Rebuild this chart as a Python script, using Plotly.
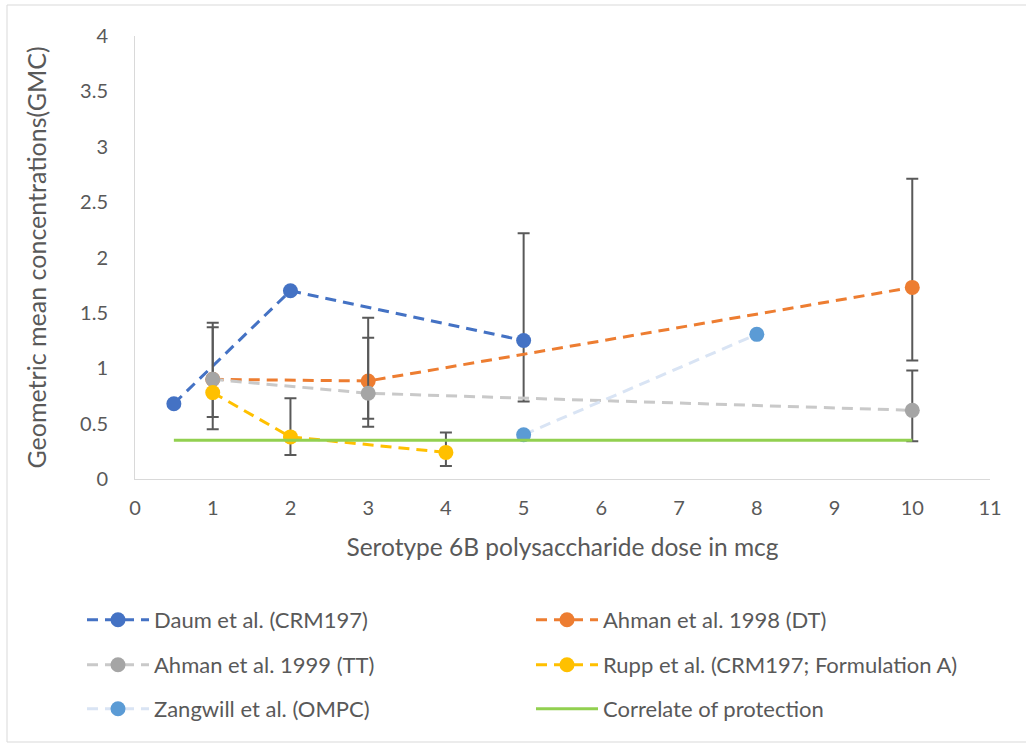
import numpy as np
import plotly.graph_objects as go

# Serotype 6B: GMC by polysaccharide dose (mcg), with CI bounds where reported
daum_dose = [0.5, 2, 5]
daum_gmc = [0.68, 1.70, 1.25]
daum_lo = [None, None, 0.70]
daum_hi = [None, None, 2.22]

ahman98_dose = [1, 3, 10]
ahman98_gmc = [0.90, 0.885, 1.73]
ahman98_lo = [0.56, 0.545, 1.07]
ahman98_hi = [1.41, 1.456, 2.71]

ahman99_dose = [1, 3, 10]
ahman99_gmc = [0.90, 0.774, 0.62]
ahman99_lo = [0.45, 0.472, 0.34]
ahman99_hi = [1.37, 1.276, 0.98]

rupp_dose = [1, 2, 4]
rupp_gmc = [0.78, 0.38, 0.24]
rupp_lo = [None, 0.217, 0.117]
rupp_hi = [None, 0.73, 0.42]

zangwill_dose = [5, 8]
zangwill_gmc = [0.40, 1.306]

protection_dose = [0.5, 10]
protection_gmc = [0.35, 0.35]

FONT = "Lato"
TXT = "#595959"
ERR = "#595959"
DASH = "11px,7px"


def err_arrays(y, lo, hi):
    plus = [np.nan if h is None else h - v for v, h in zip(y, hi)]
    minus = [np.nan if l is None else v - l for v, l in zip(y, lo)]
    return plus, minus


def series(name, x, y, line_color, marker_color, legend, lo=None, hi=None):
    kw = {}
    if lo is not None:
        plus, minus = err_arrays(y, lo, hi)
        kw["error_y"] = dict(type="data", symmetric=False, array=plus,
                             arrayminus=minus, color=ERR, thickness=2, width=6)
    return go.Scatter(
        x=x, y=y, name=name, mode="lines+markers",
        line=dict(color=line_color, width=3, dash=DASH),
        marker=dict(color=marker_color, size=15),
        legend=legend, **kw)


fig = go.Figure()
fig.add_trace(series("Daum et al. (CRM197)", daum_dose, daum_gmc,
                     "#4472C4", "#4472C4", "legend", daum_lo, daum_hi))
fig.add_trace(series("Ahman et al. 1998 (DT)", ahman98_dose, ahman98_gmc,
                     "#ED7D31", "#ED7D31", "legend", ahman98_lo, ahman98_hi))
fig.add_trace(series("Ahman et al. 1999 (TT)", ahman99_dose, ahman99_gmc,
                     "#C9C9C9", "#A5A5A5", "legend2", ahman99_lo, ahman99_hi))
fig.add_trace(series("Rupp et al. (CRM197; Formulation A)", rupp_dose, rupp_gmc,
                     "#FFC000", "#FFC000", "legend2", rupp_lo, rupp_hi))
fig.add_trace(series("Zangwill et al. (OMPC)", zangwill_dose, zangwill_gmc,
                     "#D9E4F4", "#5B9BD5", "legend3"))
fig.add_trace(go.Scatter(
    x=protection_dose, y=protection_gmc, name="Correlate of protection",
    mode="lines", line=dict(color="#92D050", width=3), legend="legend3"))

L, R, T, B = 135, 36, 36, 265
W, H = 1026, 744
pw, ph = W - L - R, H - T - B


def px_x(p):
    return (p - L) / pw


def px_y(p):
    return (H - B - p) / ph


legend_common = dict(
    orientation="h", xanchor="left", yanchor="middle", x=px_x(82),
    entrywidth=372, entrywidthmode="pixels", itemwidth=62,
    font=dict(family=FONT, size=22, color=TXT), bgcolor="rgba(0,0,0,0)",
)

fig.update_layout(
    width=W, height=H,
    margin=dict(l=L, r=R, t=T, b=B),
    paper_bgcolor="white", plot_bgcolor="white",
    font=dict(family=FONT, color=TXT),
    showlegend=True,
    legend=dict(y=px_y(620), **legend_common),
    legend2=dict(y=px_y(665), **legend_common),
    legend3=dict(y=px_y(709), **legend_common),
    xaxis=dict(
        range=[0, 11], dtick=1, showgrid=False, zeroline=False,
        showline=True, linecolor="#D9D9D9", linewidth=1, ticks="",
        tickfont=dict(family=FONT, size=20, color=TXT), ticklabelstandoff=11,
        title=dict(text="Serotype 6B polysaccharide dose in mcg",
                   font=dict(family=FONT, size=24.5, color=TXT), standoff=20),
    ),
    yaxis=dict(
        range=[0, 4], dtick=0.5, showgrid=False, zeroline=False,
        showline=True, linecolor="#D9D9D9", linewidth=1, ticks="",
        tickfont=dict(family=FONT, size=20, color=TXT), ticklabelstandoff=22,
        title=dict(text="Geometric mean concentrations(GMC)",
                   font=dict(family=FONT, size=25, color=TXT), standoff=26),
    ),
    shapes=[dict(type="rect", xref="paper", yref="paper",
                 x0=px_x(7), x1=px_x(1040), y0=px_y(742), y1=px_y(5),
                 line=dict(color="#D9D9D9", width=1), layer="below")],
)

fig.write_html("out.html")
